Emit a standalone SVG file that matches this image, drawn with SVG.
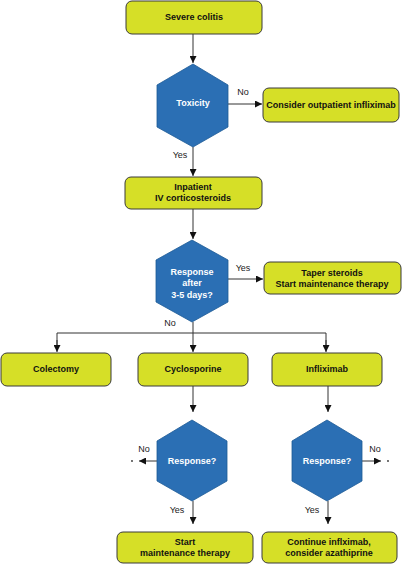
<svg xmlns="http://www.w3.org/2000/svg" width="402" height="565" viewBox="0 0 402 565">
<defs>
<style>
.box{fill:#d6df27;stroke:#3a3a3a;stroke-width:1}
.hex{fill:#2b6fb4;stroke:#1d5a96;stroke-width:0.8}
.bt{font-family:"Liberation Sans",Arial,sans-serif;font-size:9px;font-weight:bold;fill:#111;text-anchor:middle}
.ht{font-family:"Liberation Sans",Arial,sans-serif;font-size:9px;font-weight:bold;fill:#fff;text-anchor:middle}
.lb{font-family:"Liberation Sans",Arial,sans-serif;font-size:9px;fill:#222;text-anchor:middle}
.ln{fill:none;stroke:#333;stroke-width:1}
</style>
<marker id="ah" viewBox="0 0 10 10" refX="10" refY="5" markerWidth="7" markerHeight="7" markerUnits="userSpaceOnUse" orient="auto">
<path d="M0,0 L10,5 L0,10 z" fill="#111"/>
</marker>
</defs>
<rect width="402" height="565" fill="#fff"/>
<g id="connectors">
<line class="ln" x1="193" y1="34" x2="193" y2="63" marker-end="url(#ah)"/>
<line class="ln" x1="228" y1="104" x2="262" y2="104" marker-end="url(#ah)"/>
<line class="ln" x1="193" y1="147" x2="193" y2="176" marker-end="url(#ah)"/>
<line class="ln" x1="193" y1="209" x2="193" y2="239" marker-end="url(#ah)"/>
<line class="ln" x1="228" y1="279" x2="263" y2="279" marker-end="url(#ah)"/>
<line class="ln" x1="193" y1="322" x2="193" y2="333"/>
<polyline class="ln" points="57,347 57,333 326,333 326,347"/>
<line class="ln" x1="57" y1="340" x2="57" y2="352" marker-end="url(#ah)"/>
<line class="ln" x1="193" y1="333" x2="193" y2="352" marker-end="url(#ah)"/>
<line class="ln" x1="326" y1="340" x2="326" y2="352" marker-end="url(#ah)"/>
<line class="ln" x1="193" y1="386" x2="193" y2="412" marker-end="url(#ah)"/>
<line class="ln" x1="328" y1="386" x2="328" y2="412" marker-end="url(#ah)"/>
<line class="ln" x1="157" y1="461" x2="139" y2="461" marker-end="url(#ah)"/>
<circle cx="132" cy="461" r="0.9" fill="#333"/>
<line class="ln" x1="362" y1="461" x2="381" y2="461" marker-end="url(#ah)"/>
<circle cx="388" cy="461" r="0.9" fill="#333"/>
<line class="ln" x1="193" y1="501" x2="193" y2="524" marker-end="url(#ah)"/>
<line class="ln" x1="328" y1="501" x2="328" y2="524" marker-end="url(#ah)"/>
<text class="lb" x="243" y="95">No</text>
<text class="lb" x="180" y="158">Yes</text>
<text class="lb" x="243" y="271">Yes</text>
<text class="lb" x="170" y="326">No</text>
<text class="lb" x="144" y="452">No</text>
<text class="lb" x="177" y="513">Yes</text>
<text class="lb" x="375" y="452">No</text>
<text class="lb" x="312" y="513">Yes</text>
</g>
<g id="severe-colitis">
<rect class="box" x="126" y="1" width="136" height="33" rx="6"/>
<text class="bt" x="194" y="20">Severe colitis</text>
</g>
<g id="toxicity">
<polygon class="hex" points="193,64 228,85 228,127 193,147 157,127 157,85"/>
<text class="ht" x="193" y="106">Toxicity</text>
</g>
<g id="outpatient">
<rect class="box" x="263" y="88" width="136" height="34" rx="6"/>
<text class="bt" x="331" y="108">Consider outpatient infliximab</text>
</g>
<g id="inpatient">
<rect class="box" x="125" y="177" width="137" height="32" rx="6"/>
<text class="bt" x="193" y="190">Inpatient</text>
<text class="bt" x="193" y="201">IV corticosteroids</text>
</g>
<g id="response-3-5">
<polygon class="hex" points="192,240 228,260 228,302 192,322 156,302 156,260"/>
<text class="ht" x="192" y="275">Response</text>
<text class="ht" x="192" y="286">after</text>
<text class="ht" x="192" y="298">3-5 days?</text>
</g>
<g id="taper">
<rect class="box" x="264" y="262" width="137" height="32" rx="6"/>
<text class="bt" x="332" y="276">Taper steroids</text>
<text class="bt" x="332" y="287">Start maintenance therapy</text>
</g>
<g id="colectomy">
<rect class="box" x="1" y="353" width="110" height="33" rx="6"/>
<text class="bt" x="56" y="372">Colectomy</text>
</g>
<g id="cyclosporine">
<rect class="box" x="138" y="353" width="110" height="33" rx="6"/>
<text class="bt" x="193" y="372">Cyclosporine</text>
</g>
<g id="infliximab">
<rect class="box" x="272" y="353" width="110" height="33" rx="6"/>
<text class="bt" x="327" y="372">Infliximab</text>
</g>
<g id="response-cyclo">
<polygon class="hex" points="192,420 227,441 227,481 192,501 157,481 157,441"/>
<text class="ht" x="192" y="464">Response?</text>
</g>
<g id="response-inflix">
<polygon class="hex" points="327,420 362,441 362,481 327,501 292,481 292,441"/>
<text class="ht" x="327" y="464">Response?</text>
</g>
<g id="start-maintenance">
<rect class="box" x="117" y="532" width="136" height="31" rx="6"/>
<text class="bt" x="185" y="545">Start</text>
<text class="bt" x="185" y="556">maintenance therapy</text>
</g>
<g id="continue-infliximab">
<rect class="box" x="262" y="532" width="135" height="31" rx="6"/>
<text class="bt" x="329" y="545">Continue inflximab,</text>
<text class="bt" x="329" y="556">consider azathiprine</text>
</g>
</svg>
